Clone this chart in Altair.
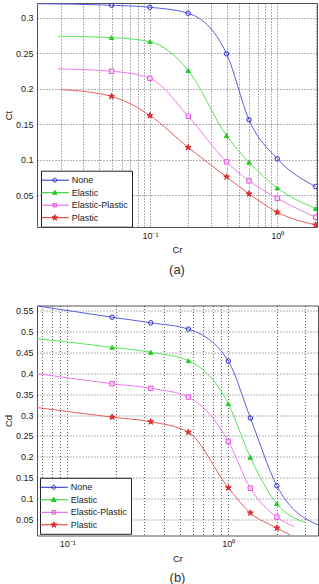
import altair as alt
import pandas as pd

SERIES = ["None", "Elastic", "Elastic-Plastic", "Plastic"]
LINE_COLORS = ["#5b5be6", "#5ae35a", "#ef78ef", "#eb5d5d"]
MARK_COLORS = ["#2a2acb", "#27c927", "#e35ae3", "#e22b2b"]
MARK_FILLS = ["transparent", "#27c927", "#f6d0f6", "#e22b2b"]

STAR = ("M0,-1.4L0.314,-0.433L1.331,-0.433L0.508,0.165L0.823,1.133L0,0.535"
        "L-0.823,1.133L-0.508,0.165L-1.331,-0.433L-0.314,-0.433Z")
MARK_SHAPES = ["circle", "triangle-up", "square", STAR]
LEG_SHAPES = [
    "M-2.8,0H2.8M-0.4,0A0.4,0.4,0,1,0,0.4,0A0.4,0.4,0,1,0,-0.4,0Z",
    "M-2.8,0H2.8M0,-0.5L0.46,0.32L-0.46,0.32Z",
    "M-2.8,0H2.8M-0.36,-0.36H0.36V0.36H-0.36Z",
    "M-2.8,0H2.8M0,-0.6L0.135,-0.185L0.571,-0.185L0.218,0.071L0.353,0.485L0,0.229"
    "L-0.353,0.485L-0.218,0.071L-0.571,-0.185L-0.135,-0.185Z",
]

# ---- panel (a): Ct vs Cr ----
A_X = [0.05, 0.1, 0.2, 0.4, 0.6, 1.0, 2.0]
A_START_X = [0.013, 0.019, 0.019, 0.02]
A_START_Y = [0.3195, 0.2737, 0.2277, 0.1986]
A_NONE = [0.3173, 0.3145, 0.306, 0.249, 0.156, 0.101, 0.062]
A_ELASTIC = [0.2718, 0.266, 0.2254, 0.1338, 0.0962, 0.060, 0.031]
A_EP = [0.2244, 0.2145, 0.161, 0.0967, 0.070, 0.0455, 0.0187]
A_PLASTIC = [0.189, 0.162, 0.117, 0.0756, 0.0517, 0.0258, 0.0079]
A_XGRID = [0.02, 0.03, 0.04, 0.05, 0.06, 0.07, 0.08, 0.09,
           0.1, 0.2, 0.3, 0.4, 0.5, 0.6, 0.7, 0.8, 0.9, 1, 2]
A_YTICKS = [0.05, 0.1, 0.15, 0.2, 0.25, 0.3]

# ---- panel (b): Cd vs Cr ----
B_X = [0.19, 0.33, 0.565, 1.0, 1.37, 2.0]
B_START_X = [0.065, 0.065, 0.065, 0.065]
B_START_Y = [0.561, 0.483, 0.399, 0.318]
B_END_X = [3.6, 3.0, 2.57, 2.41]
B_END_Y = [0.037, 0.043, 0.033, 0.0135]
B_NONE = [0.534, 0.5206, 0.5055, 0.429, 0.293, 0.131]
B_ELASTIC = [0.462, 0.45, 0.43, 0.327, 0.199, 0.088]
B_EP = [0.375, 0.364, 0.343, 0.237, 0.125, 0.056]
B_PLASTIC = [0.295, 0.284, 0.259, 0.126, 0.066, 0.030]
B_XGRID = [0.07, 0.08, 0.09, 0.1, 0.2, 0.3, 0.4, 0.5, 0.6, 0.7, 0.8, 0.9,
           1, 2, 3]
B_YTICKS = [0.05, 0.1, 0.15, 0.2, 0.25, 0.3, 0.35, 0.4, 0.45, 0.5, 0.55]

FONT = "Liberation Sans"


def build_frames(xs, ys_list, start_x, start_y, end_x=None, end_y=None):
    lines, marks = [], []
    for i, (name, ys) in enumerate(zip(SERIES, ys_list)):
        lines.append({"series": name, "x": start_x[i], "y": start_y[i]})
        for x, y in zip(xs, ys):
            lines.append({"series": name, "x": x, "y": y})
            marks.append({"series": name, "x": x, "y": y})
        if end_x is not None:
            lines.append({"series": name, "x": end_x[i], "y": end_y[i]})
    return pd.DataFrame(lines), pd.DataFrame(marks)


def panel(line_df, mark_df, xdom, ydom, xgrid, yticks, ytitle, caption,
          w, h, legx, legy, cap_offset):
    xs = alt.Scale(type="log", domain=xdom, nice=False)
    ys = alt.Scale(domain=ydom, nice=False, zero=False)
    xaxis = alt.Axis(
        values=xgrid, title="Cr", grid=True, ticks=False, domain=False,
        labelExpr="datum.value == 0.1 ? '10⁻¹' : (datum.value == 1 ? '10⁰' : '')",
        labelFlush=False, labelOverlap=False, labelPadding=4, titlePadding=4.5,
    )
    yaxis = alt.Axis(
        values=yticks, title=ytitle, grid=True, ticks=False, domain=False,
        format=".2~f", labelPadding=4, titlePadding=2, labelFlush=False,
        labelOverlap=False,
    )
    X = alt.X("x:Q", scale=xs, axis=xaxis)
    Y = alt.Y("y:Q", scale=ys, axis=yaxis)

    lines = alt.Chart(line_df).mark_line(
        interpolate="monotone", strokeWidth=1, clip=True
    ).encode(
        x=X, y=Y,
        color=alt.Color("series:N", scale=alt.Scale(domain=SERIES, range=LINE_COLORS), legend=None),
        order=alt.Order("x:Q"),
    )
    points = alt.Chart(mark_df).mark_point(
        filled=True, size=20, strokeWidth=1, opacity=1, clip=True
    ).encode(
        x=X, y=Y,
        shape=alt.Shape("series:N", scale=alt.Scale(domain=SERIES, range=MARK_SHAPES), legend=None),
        stroke=alt.Stroke("series:N", scale=alt.Scale(domain=SERIES, range=MARK_COLORS), legend=None),
        fill=alt.Fill("series:N", scale=alt.Scale(domain=SERIES, range=MARK_FILLS), legend=None),
    )
    leg = alt.Legend(
        orient="none", legendX=legx, legendY=legy, title=None,
        strokeColor="#222", fillColor="white", padding=4, cornerRadius=0,
        symbolSize=100, symbolStrokeWidth=1, symbolOffset=4.3, labelOffset=11.5,
        labelFont=FONT, labelFontSize=9, labelColor="#222", rowPadding=1.5,
        symbolOpacity=1,
    )
    legdf = pd.DataFrame({"item": SERIES})
    legend_layer = alt.Chart(legdf).mark_point(filled=True, opacity=0, size=1).encode(
        x=alt.value(140), y=alt.value(100),
        shape=alt.Shape("item:N", scale=alt.Scale(domain=SERIES, range=LEG_SHAPES), legend=leg),
        stroke=alt.Stroke("item:N", scale=alt.Scale(domain=SERIES, range=MARK_COLORS), legend=leg),
        fill=alt.Fill("item:N", scale=alt.Scale(domain=SERIES, range=MARK_FILLS), legend=leg),
    )
    return alt.layer(lines, points, legend_layer).resolve_scale(
        color="independent", shape="independent", stroke="independent",
        fill="independent",
    ).properties(
        width=w, height=h,
        title=alt.TitleParams(caption, orient="bottom", fontSize=13,
                              fontWeight="normal", font=FONT, color="#333",
                              offset=cap_offset),
    )


a_lines, a_marks = build_frames(A_X, [A_NONE, A_ELASTIC, A_EP, A_PLASTIC],
                                A_START_X, A_START_Y)
b_lines, b_marks = build_frames(B_X, [B_NONE, B_ELASTIC, B_EP, B_PLASTIC],
                                B_START_X, B_START_Y, B_END_X, B_END_Y)

pa = panel(a_lines, a_marks, [0.013, 2.05], [0.005, 0.3205], A_XGRID, A_YTICKS,
           "Ct", "(a)", 280, 224, 4, 167.7, 10)
pb = panel(b_lines, b_marks, [0.065, 3.6], [0.012, 0.562], B_XGRID, B_YTICKS,
           "Cd", "(b)", 281, 230, 3, 172.3, 9)

chart = alt.vconcat(pa, pb, spacing=26.5).properties(
    padding={"left": 2, "top": 2, "right": 0, "bottom": 0},
    background="white",
).configure_view(
    stroke="#555", strokeWidth=1,
).configure_axis(
    gridColor="#000", gridDash=[1, 2], gridWidth=0.7, gridOpacity=0.85,
    labelFont=FONT, labelFontSize=9, labelColor="#222",
    titleFont=FONT, titleFontSize=9.5, titleFontWeight="normal", titleColor="#222",
)

chart.save("out.html", embed_options={"renderer": "svg", "actions": False})
